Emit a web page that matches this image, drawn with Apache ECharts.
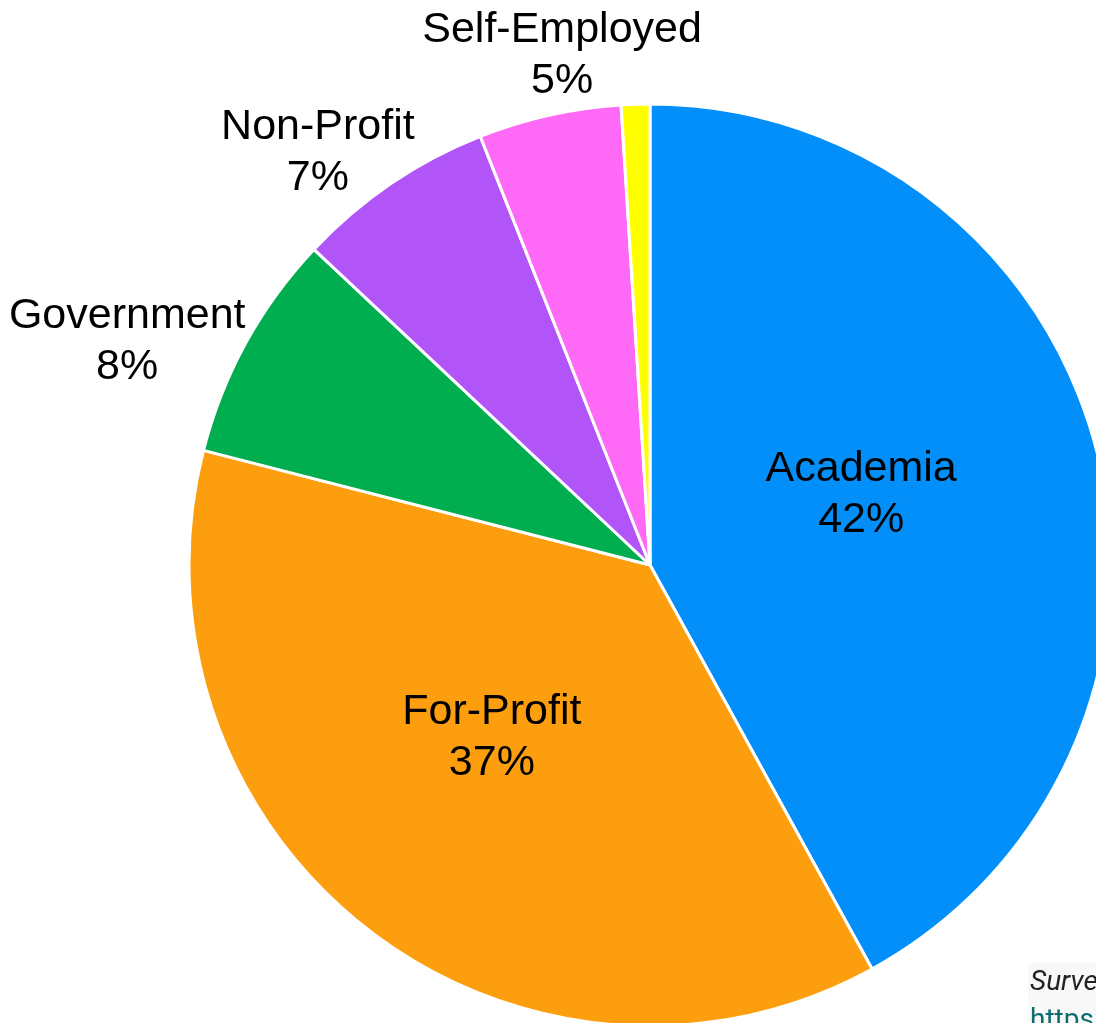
<!DOCTYPE html>
<html>
<head>
<meta charset="utf-8">
<script src="https://cdn.jsdelivr.net/npm/echarts@6/dist/echarts.min.js"></script>
<style>
  html, body { margin: 0; padding: 0; background: #fff; }
  #chart { width: 1096px; height: 1023px; }
</style>
</head>
<body>
<div id="chart"></div>
<script>
// data
const sectors = ["Academia", "For-Profit", "Government", "Non-Profit", "Self-Employed", "Other"];
const shares = [42, 37, 8, 7, 5, 1];
const sectorColors = ["#038ffa", "#fd9e0e", "#00ae4f", "#b155f9", "#fe69f5", "#ffff00"];

const cx = 650, cy = 565, radius = 461;

const total = shares.reduce((s, v) => s + v, 0);
const midAngles = [];
let acc = 0;
shares.forEach(v => {
  midAngles.push((acc + v / 2) / total * Math.PI * 2);
  acc += v;
});

function clamp(v, lo, hi) { return Math.max(lo, Math.min(hi, v)); }

const chart = echarts.init(document.getElementById("chart"));

const data = sectors.map((name, i) => {
  const pct = shares[i] / total * 100;
  let label;
  if (pct < 2) label = { show: false };
  else if (pct >= 20) label = { show: true, position: "inside" };
  else label = { show: true, position: "outside" };
  return { name, value: shares[i], itemStyle: { color: sectorColors[i] }, label };
});

chart.setOption({
  animation: false,
  series: [{
    type: "pie",
    center: [cx, cy],
    radius: radius,
    startAngle: 90,
    clockwise: true,
    avoidLabelOverlap: false,
    itemStyle: { borderColor: "#ffffff", borderWidth: 3 },
    label: {
      color: "#000",
      fontFamily: "Liberation Sans",
      fontSize: 43,
      lineHeight: 51,
      align: "center",
      formatter: p => p.name + "\n" + Math.round(p.percent) + "%"
    },
    labelLine: { show: false, length: 0, length2: 0 },
    emphasis: { disabled: true },
    labelLayout: function (p) {
      const i = p.dataIndex;
      const a = midAngles[i];
      const dx = Math.sin(a), dy = -Math.cos(a);
      if (data[i].label.position === "inside") {
        // nudge inside labels slightly up/left
        return { dx: -15, dy: -12 };
      }
      // outside labels: box touches a point just past the rim
      const R = radius + 6;
      const ax = cx + R * dx, ay = cy + R * dy;
      const hw = p.labelRect.width / 2, hh = p.labelRect.height / 2;
      const fx = clamp((Math.abs(dx) - 0.26) / 0.42, -1, 0.96);
      const fy = clamp((Math.abs(dy) - 0.68) / 0.29, 0, 1);
      return {
        x: ax + Math.sign(dx) * hw * fx,
        y: ay + Math.sign(dy) * hh * fy + 2 - 5 * fy,
        align: "center",
        verticalAlign: "middle"
      };
    },
    data: data
  }],
  graphic: [{
    type: "group",
    left: 1028,
    top: 963,
    children: [
      { type: "rect", shape: { x: 0, y: 0, width: 300, height: 80 }, style: { fill: "#f8f8f8" } },
      { type: "text", x: 2, y: 6, style: { text: "Survey results", fontFamily: "Roboto", fontStyle: "italic", fontSize: 28, fill: "#222" } },
      { type: "text", x: 2, y: 44, style: { text: "https://", fontFamily: "Roboto", fontSize: 28, fill: "#0b6e6e" } }
    ]
  }]
});
</script>
</body>
</html>
